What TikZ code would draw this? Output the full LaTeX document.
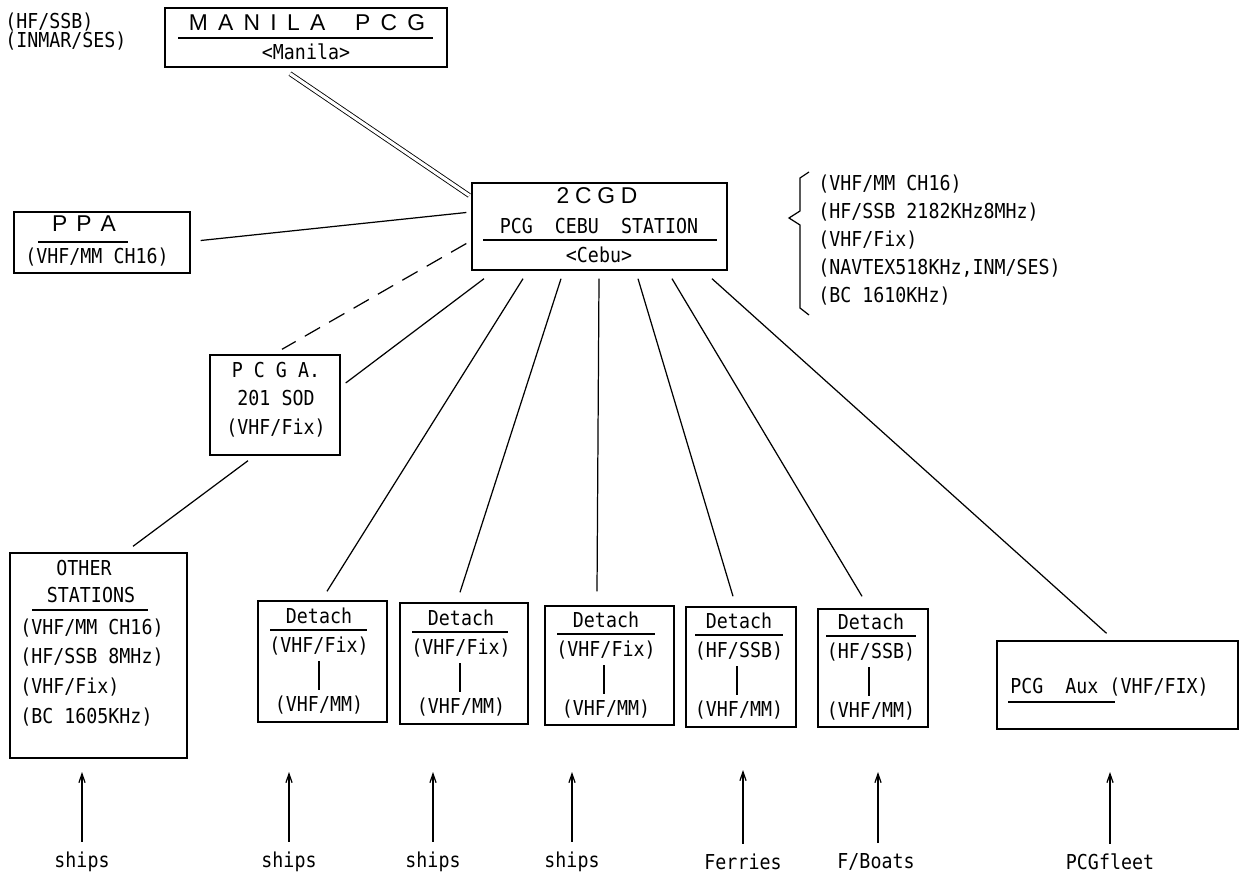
\documentclass[tikz,border=0pt]{standalone}
\usepackage{fontspec}
\setmainfont{DejaVu Sans Mono}[FakeStretch=0.89]
\newfontfamily\titlefont{Liberation Sans}
\usetikzlibrary{arrows.meta,calc}
\newcommand{\ls}{\hspace{0.45em}}

\begin{document}
\begin{tikzpicture}[x=0.02cm,y=-0.02cm,
  box/.style={draw, line width=0.8pt, inner sep=0pt},
  lbl/.style={inner sep=0pt, font=\fontsize{11.7}{14}\selectfont},
  ttl/.style={inner sep=0pt, font=\titlefont\fontsize{13}{15}\selectfont},
  ul/.style={line width=0.8pt},
  link/.style={line width=0.7pt},
  arr/.style={line width=0.7pt, -{Straight Barb[length=5pt,width=3.5pt]}}]
\useasboundingbox (0,0) rectangle (1243,878);

% top
\node[lbl, anchor=west] (hf) at (5,22) {(HF/SSB)};
\node[lbl, anchor=west] (inmar) at (5,41) {(INMAR/SES)};

\node[box, minimum width=5.64cm, minimum height=1.18cm] (manila) at (306,37.5) {};
\node[ttl] (mtitle) at (307,23) {M\ls A\ls N\ls I\ls L\ls A\hspace{1.3em}P\ls C\ls G};
\draw[ul] (178,38) -- (433,38);
\node[lbl] (mcity) at (306,52) {<Manila>};

\node[box, minimum width=5.1cm, minimum height=1.74cm] (cebu) at (599.5,226.5) {};
\node[ttl] (ctitle) at (597,196) {2\hspace{.25em}C\hspace{.25em}G\hspace{.25em}D};
\node[lbl] (cname) at (599,226) {PCG\ \ CEBU\ \ STATION};
\draw[ul] (483,240) -- (717,240);
\node[lbl] (ccity) at (599,255) {<Cebu>};

% frequencies of the station
\draw[line width=0.7pt] (809,172) -- (800,178) -- (800,211) -- (789,218) -- (800,225) -- (800,308) -- (809,315);
\node[lbl, anchor=west] (f1) at (818,184) {(VHF/MM CH16)};
\node[lbl, anchor=west] (f2) at (818,212) {(HF/SSB 2182KHz8MHz)};
\node[lbl, anchor=west] (f3) at (818,240) {(VHF/Fix)};
\node[lbl, anchor=west] (f4) at (818,268) {(NAVTEX518KHz,INM/SES)};
\node[lbl, anchor=west] (f5) at (818,296) {(BC 1610KHz)};

% PPA
\node[box, minimum width=3.52cm, minimum height=1.22cm] (ppa) at (102,242.5) {};
\node[ttl] (ptitle) at (84,224) {P\hspace{.4em}P\hspace{.4em}A};
\draw[ul] (38,242) -- (128,242);
\node[lbl] (pfreq) at (97,257) {(VHF/MM CH16)};

% PCGA
\node[box, minimum width=2.6cm, minimum height=2cm] (pcga) at (275,405) {};
\node[lbl] (g1) at (276,370) {P C G A.};
\node[lbl] (g2) at (276,398) {201 SOD};
\node[lbl] (g3) at (276,428) {(VHF/Fix)};

% other stations
\node[box, minimum width=3.54cm, minimum height=4.1cm] (other) at (98.5,655.5) {};
\node[lbl] (o1) at (84,568) {OTHER};
\node[lbl] (o2) at (91,595) {STATIONS};
\draw[ul] (32,610) -- (148,610);
\node[lbl, anchor=west] (o3) at (20,628) {(VHF/MM CH16)};
\node[lbl, anchor=west] (o4) at (20,657) {(HF/SSB 8MHz)};
\node[lbl, anchor=west] (o5) at (20,687) {(VHF/Fix)};
\node[lbl, anchor=west] (o6) at (20,717) {(BC 1605KHz)};

% detachments
\node[box, minimum width=2.58cm, minimum height=2.42cm] (det1) at (322.5,661.5) {};
\node[lbl] (d1a) at (319,616) {Detach};
\draw[ul] (270,630) -- (367,630);
\node[lbl] (d1b) at (319,646) {(VHF/Fix)};
\draw[link] (319,661) -- (319,690);
\node[lbl] (d1c) at (319,705) {(VHF/MM)};

\node[box, minimum width=2.56cm, minimum height=2.42cm] (det2) at (464,663.5) {};
\node[lbl] (d2a) at (461,618) {Detach};
\draw[ul] (412,632) -- (508,632);
\node[lbl] (d2b) at (461,648) {(VHF/Fix)};
\draw[link] (460,663) -- (460,692);
\node[lbl] (d2c) at (461,707) {(VHF/MM)};

\node[box, minimum width=2.58cm, minimum height=2.38cm] (det3) at (609.5,665.5) {};
\node[lbl] (d3a) at (606,620) {Detach};
\draw[ul] (557,634) -- (655,634);
\node[lbl] (d3b) at (606,650) {(VHF/Fix)};
\draw[link] (604,665) -- (604,694);
\node[lbl] (d3c) at (606,709) {(VHF/MM)};

\node[box, minimum width=2.2cm, minimum height=2.4cm] (det4) at (741,667) {};
\node[lbl] (d4a) at (739,621) {Detach};
\draw[ul] (695,635) -- (783,635);
\node[lbl] (d4b) at (739,651) {(HF/SSB)};
\draw[link] (737,666) -- (737,695);
\node[lbl] (d4c) at (739,710) {(VHF/MM)};

\node[box, minimum width=2.2cm, minimum height=2.36cm] (det5) at (873,668) {};
\node[lbl] (d5a) at (871,622) {Detach};
\draw[ul] (826,636) -- (916,636);
\node[lbl] (d5b) at (871,652) {(HF/SSB)};
\draw[link] (869,667) -- (869,696);
\node[lbl] (d5c) at (871,711) {(VHF/MM)};

% auxiliary
\node[box, minimum width=4.82cm, minimum height=1.76cm] (aux) at (1117.5,685) {};
\node[lbl, anchor=west] (auxt) at (1010,687) {PCG\ \ Aux (VHF/FIX)};
\draw[ul] (1008,702) -- (1115,702);

% links
\draw[link, double, double distance=1.8pt, line width=0.5pt] ($(manila.south)+(-16,6)$) -- ($(cebu.west)+(-2,-31)$);
\draw[link] ($(ppa.east)+(10,-2)$) -- ($(cebu.west)+(-5,-14)$);
\draw[link, dash pattern=on 10pt off 6pt] ($(cebu.west)+(-5,17)$) -- ($(pcga.north)+(7,-5)$);
\draw[link] ($(cebu.south)+(-115.5,8)$) -- ($(pcga.east)+(5,-22)$);
\draw[link] ($(pcga.south)+(-27,5)$) -- ($(other.north)+(34.5,-6)$);
\draw[link] ($(cebu.south)+(-76.5,8)$) -- ($(det1.north)+(4.5,-9)$);
\draw[link] ($(cebu.south)+(-38.5,8)$) -- ($(det2.north)+(-4,-10)$);
\draw[link] ($(cebu.south)+(-0.5,8)$) -- ($(det3.north)+(-12.5,-14)$);
\draw[link] ($(cebu.south)+(38.5,8)$) -- ($(det4.north)+(-8,-10)$);
\draw[link] ($(cebu.south)+(72.5,8)$) -- ($(det5.north)+(-11,-12)$);
\draw[link] ($(cebu.south)+(112.5,8)$) -- ($(aux.north)+(-11,-7)$);

% traffic
\node[lbl] (s1) at (82,862) {ships};
\node[lbl] (s2) at (289,862) {ships};
\node[lbl] (s3) at (433,862) {ships};
\node[lbl] (s4) at (572,862) {ships};
\node[lbl] (s5) at (743,862) {Ferries};
\node[lbl] (s6) at (876,862) {F/Boats};
\node[lbl] (s7) at (1110,862) {PCGfleet};
\coordinate (a1) at (82,772);
\coordinate (a2) at (289,772);
\coordinate (a3) at (433,772);
\coordinate (a4) at (572,772);
\coordinate (a5) at (743,770);
\coordinate (a6) at (878,772);
\coordinate (a7) at (1110,772);
\draw[arr] ($(s1.north)+(0,-10)$) -- (a1);
\draw[arr] ($(s2.north)+(0,-10)$) -- (a2);
\draw[arr] ($(s3.north)+(0,-10)$) -- (a3);
\draw[arr] ($(s4.north)+(0,-10)$) -- (a4);
\draw[arr] ($(s5.north)+(0,-10)$) -- (a5);
\draw[arr] ($(s6.north)+(2,-10)$) -- (a6);
\draw[arr] ($(s7.north)+(0,-10)$) -- (a7);
\end{tikzpicture}
\end{document}
